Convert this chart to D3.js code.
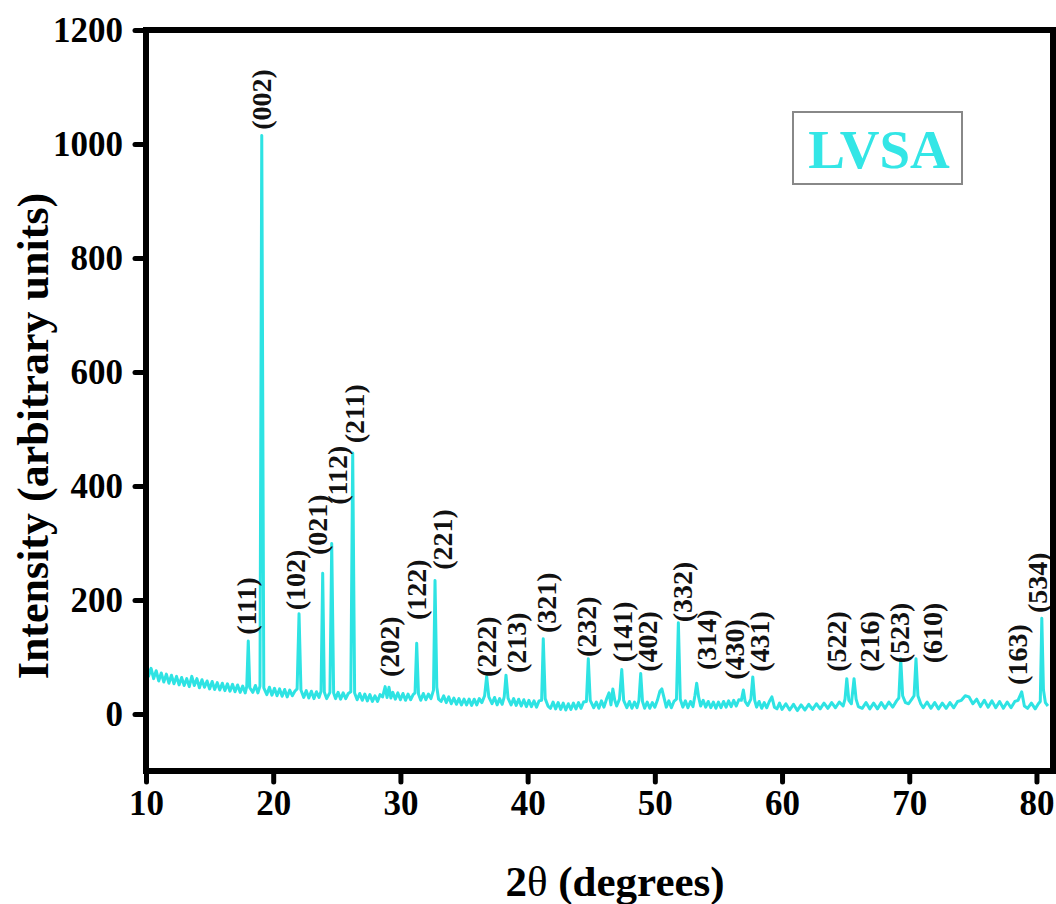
<!DOCTYPE html>
<html>
<head>
<meta charset="utf-8">
<script src="https://cdn.jsdelivr.net/npm/d3@7"></script>
<style>
  html, body { margin: 0; padding: 0; background: #ffffff; }
  svg { display: block; }
  text { font-family: "Liberation Serif", "Times New Roman", serif; }
</style>
</head>
<body>
<svg id="chart" width="1056" height="904"></svg>
<script>
// XRD pattern of the LVSA crystal: 2θ (degrees) vs. intensity (arbitrary units)
const twoTheta = [
  10.0, 10.1, 10.2, 10.4, 10.6, 10.8, 11.0, 11.2, 11.4, 11.6, 11.8, 12.0, 12.2, 12.4, 12.6, 12.8,
  13.0, 13.2, 13.4, 13.6, 13.8, 14.0, 14.2, 14.4, 14.6, 14.8, 15.0, 15.2, 15.4, 15.6, 15.8, 16.0,
  16.2, 16.4, 16.6, 16.8, 17.0, 17.2, 17.4, 17.6, 17.8, 17.92, 18.04, 18.16, 18.4, 18.6, 18.8, 18.96,
  19.1, 19.26, 19.5, 19.7, 19.9, 20.1, 20.3, 20.5, 20.7, 20.9, 21.1, 21.3, 21.5, 21.7, 21.88, 22.03,
  22.18, 22.4, 22.6, 22.8, 23.0, 23.2, 23.4, 23.6, 23.76, 23.89, 24.02, 24.2, 24.46, 24.6, 24.75, 24.9,
  25.1, 25.3, 25.5, 25.7, 25.9, 26.1, 26.25, 26.4, 26.6, 26.8, 27.0, 27.2, 27.4, 27.6, 27.8, 28.0,
  28.2, 28.4, 28.6, 28.8, 28.95, 29.1, 29.25, 29.4, 29.6, 29.8, 30.0, 30.2, 30.4, 30.6, 30.8, 31.0,
  31.15, 31.28, 31.42, 31.6, 31.8, 32.0, 32.2, 32.4, 32.6, 32.72, 32.86, 33.0, 33.2, 33.4, 33.6, 33.8,
  34.0, 34.2, 34.4, 34.6, 34.8, 35.0, 35.2, 35.4, 35.6, 35.8, 36.0, 36.2, 36.4, 36.62, 36.78, 36.95,
  37.2, 37.4, 37.6, 37.8, 38.0, 38.16, 38.3, 38.46, 38.7, 38.9, 39.1, 39.3, 39.5, 39.7, 39.9, 40.1,
  40.3, 40.5, 40.7, 40.9, 41.1, 41.23, 41.38, 41.6, 41.8, 42.0, 42.2, 42.4, 42.6, 42.8, 43.0, 43.2,
  43.4, 43.6, 43.8, 44.0, 44.2, 44.4, 44.62, 44.77, 44.92, 45.2, 45.4, 45.6, 45.8, 46.0, 46.2, 46.4,
  46.55, 46.7, 46.85, 47.0, 47.22, 47.4, 47.55, 47.8, 48.0, 48.2, 48.4, 48.6, 48.75, 48.89, 49.03, 49.2,
  49.4, 49.6, 49.8, 50.0, 50.2, 50.4, 50.55, 50.75, 50.9, 51.1, 51.3, 51.5, 51.7, 51.85, 52.0, 52.2,
  52.4, 52.6, 52.8, 53.0, 53.15, 53.29, 53.44, 53.6, 53.8, 54.0, 54.2, 54.4, 54.6, 54.8, 55.0, 55.2,
  55.4, 55.6, 55.8, 56.0, 56.2, 56.4, 56.6, 56.8, 56.96, 57.1, 57.3, 57.55, 57.7, 57.85, 58.0, 58.2,
  58.4, 58.6, 58.8, 59.0, 59.2, 59.4, 59.6, 59.8, 60.0, 60.3, 60.6, 60.9, 61.2, 61.5, 61.8, 62.1,
  62.4, 62.7, 63.0, 63.3, 63.6, 63.9, 64.2, 64.5, 64.8, 64.95, 65.09, 65.25, 65.45, 65.66, 65.82, 66.0,
  66.3, 66.6, 66.9, 67.2, 67.5, 67.8, 68.1, 68.4, 68.7, 69.0, 69.18, 69.33, 69.48, 69.7, 69.95, 70.2,
  70.38, 70.53, 70.68, 70.9, 71.1, 71.4, 71.7, 72.0, 72.3, 72.6, 72.9, 73.2, 73.5, 73.8, 74.1, 74.4,
  74.7, 75.0, 75.3, 75.6, 75.9, 76.2, 76.5, 76.8, 77.1, 77.4, 77.7, 78.0, 78.3, 78.55, 78.84, 79.05,
  79.3, 79.6, 79.9, 80.15, 80.3, 80.42, 80.55, 80.7, 80.9
];
const intensity = [
  76, 86, 66, 80, 62, 76, 58, 72, 56, 70, 54, 68, 53, 66, 51, 64,
  50, 62, 48, 66, 50, 62, 46, 60, 47, 58, 44, 57, 43, 55, 42, 54,
  41, 53, 40, 52, 39, 51, 38, 49, 37, 48, 128, 46, 38, 50, 37, 49,
  1015, 46, 34, 47, 33, 45, 32, 44, 31, 43, 30, 42, 32, 40, 44, 176,
  42, 29, 41, 28, 40, 27, 39, 29, 40, 247, 38, 27, 38, 299, 37, 27,
  38, 26, 37, 27, 36, 39, 458, 37, 25, 36, 24, 35, 23, 34, 22, 32,
  22, 34, 30, 48, 29, 47, 28, 38, 26, 37, 25, 36, 24, 35, 25, 34,
  37, 124, 35, 24, 36, 25, 35, 27, 42, 234, 47, 26, 22, 32, 20, 30,
  18, 28, 17, 27, 16, 26, 16, 26, 15, 26, 16, 27, 20, 32, 66, 30,
  18, 29, 16, 27, 17, 30, 68, 28, 16, 27, 15, 26, 14, 25, 13, 24,
  13, 23, 12, 23, 24, 132, 27, 14, 10, 21, 9, 20, 8, 19, 7, 18,
  8, 19, 9, 20, 10, 21, 22, 97, 24, 11, 21, 10, 23, 12, 26, 37,
  16, 44, 24, 14, 26, 78, 24, 11, 22, 10, 21, 11, 24, 71, 22, 10,
  21, 10, 20, 12, 24, 40, 44, 26, 12, 23, 11, 22, 26, 160, 26, 12,
  23, 11, 22, 13, 32, 54, 30, 14, 24, 12, 22, 11, 21, 10, 21, 11,
  22, 12, 23, 13, 24, 14, 25, 24, 42, 22, 15, 26, 65, 24, 12, 22,
  10, 20, 11, 22, 30, 12, 9, 19, 8, 18, 7, 17, 6, 16, 7, 17,
  8, 18, 9, 19, 10, 20, 11, 21, 14, 26, 62, 24, 18, 62, 26, 13,
  10, 20, 9, 19, 9, 20, 10, 21, 12, 23, 28, 97, 32, 20, 18, 26,
  32, 97, 32, 18, 11, 21, 10, 20, 9, 19, 10, 20, 11, 22, 24, 32,
  30, 18, 26, 13, 24, 12, 23, 11, 22, 10, 21, 11, 22, 24, 39, 14,
  10, 19, 9, 18, 22, 168, 42, 20, 14
];

// Miller indices of the indexed reflections and where each label sits (2θ, intensity)
const hklLabels = ["(111)", "(002)", "(102)", "(021)", "(112)", "(211)", "(202)", "(122)", "(221)",
  "(222)", "(213)", "(321)", "(232)", "(141)", "(402)", "(332)", "(314)", "(430)", "(431)",
  "(522)", "(216)", "(523)", "(610)", "(163)", "(534)"];
const labelAngle = [17.94, 19.12, 21.79, 23.52, 25.09, 26.43, 29.18, 31.3, 33.35,
  36.8, 39.17, 41.53, 44.67, 47.5, 49.47, 52.22, 54.1, 56.3, 58.27,
  64.32, 66.92, 69.28, 71.87, 78.55, 80.13];
const labelIntensity = [139, 1025, 182, 279, 367, 475, 65, 165, 253,
  65, 72, 142, 100, 91, 74, 161, 77, 60, 74,
  74, 74, 89, 89, 51, 177];

const xTicks = [10, 20, 30, 40, 50, 60, 70, 80];
const yTicks = [0, 200, 400, 600, 800, 1000, 1200];
const sampleName = "LVSA";

const lineColor = "#2ee3e3";

const svg = d3.select("#chart");
const plotLeft = 146, plotRight = 1053, plotTop = 30, plotBottom = 771;

const x = d3.scaleLinear().domain([10, 81.3]).range([plotLeft, plotRight]);
const y = d3.scaleLinear().domain([-100, 1200]).range([plotBottom, plotTop]);

svg.append("rect").attr("width", 1056).attr("height", 904).attr("fill", "#ffffff");

// pattern trace
const points = twoTheta.map((t, i) => [t, intensity[i]]);
svg.append("path")
  .datum(points)
  .attr("fill", "none")
  .attr("stroke", lineColor)
  .attr("stroke-width", 3)
  .attr("stroke-linejoin", "round")
  .attr("d", d3.line().x(d => x(d[0])).y(d => y(d[1])));

// reflection labels, rotated to read bottom-to-top
svg.append("g").selectAll("text")
  .data(hklLabels)
  .join("text")
  .attr("transform", (d, i) => `translate(${x(labelAngle[i]) + 9},${y(labelIntensity[i])}) rotate(-90)`)
  .attr("font-size", 28)
  .attr("font-weight", "bold")
  .attr("fill", "#111")
  .text(d => d);

// axes
const xAxis = d3.axisBottom(x).tickValues(xTicks).tickFormat(d3.format("d"))
  .tickSize(11).tickPadding(8).tickSizeOuter(0);
const yAxis = d3.axisLeft(y).tickValues(yTicks).tickFormat(d3.format("d"))
  .tickSize(11).tickPadding(12).tickSizeOuter(0);

const gx = svg.append("g").attr("transform", `translate(0,${plotBottom})`).call(xAxis);
const gy = svg.append("g").attr("transform", `translate(${plotLeft},0)`).call(yAxis);

[gx, gy].forEach(g => {
  g.select(".domain").remove();
  g.selectAll(".tick line").attr("stroke", "#000").attr("stroke-width", 5).attr("stroke-linecap", "round");
  g.selectAll(".tick text")
    .attr("font-family", "'Liberation Serif', 'Times New Roman', serif")
    .attr("font-size", 35)
    .attr("font-weight", "bold")
    .attr("fill", "#000");
});

// frame
svg.append("rect")
  .attr("x", plotLeft).attr("y", plotTop)
  .attr("width", plotRight - plotLeft).attr("height", plotBottom - plotTop)
  .attr("fill", "none").attr("stroke", "#000").attr("stroke-width", 6);

// legend box
svg.append("rect")
  .attr("x", 793).attr("y", 112).attr("width", 169).attr("height", 72)
  .attr("fill", "#fff").attr("stroke", "#888").attr("stroke-width", 2);
svg.append("text")
  .attr("x", 879).attr("y", 168)
  .attr("text-anchor", "middle")
  .attr("font-size", 55).attr("font-weight", "bold")
  .attr("fill", "#33e6e6")
  .text(sampleName);

// axis titles
svg.append("text")
  .attr("transform", "translate(48,436) rotate(-90)")
  .attr("text-anchor", "middle")
  .attr("font-size", 44).attr("font-weight", "bold")
  .attr("fill", "#000")
  .text("Intensity (arbitrary units)");

const xt = svg.append("text")
  .attr("x", 615).attr("y", 896)
  .attr("text-anchor", "middle")
  .attr("font-size", 43).attr("font-weight", "bold")
  .attr("fill", "#000");
xt.append("tspan").text("2");
xt.append("tspan").attr("font-weight", "normal").text("θ");
xt.append("tspan").text(" (degrees)");
</script>
</body>
</html>
